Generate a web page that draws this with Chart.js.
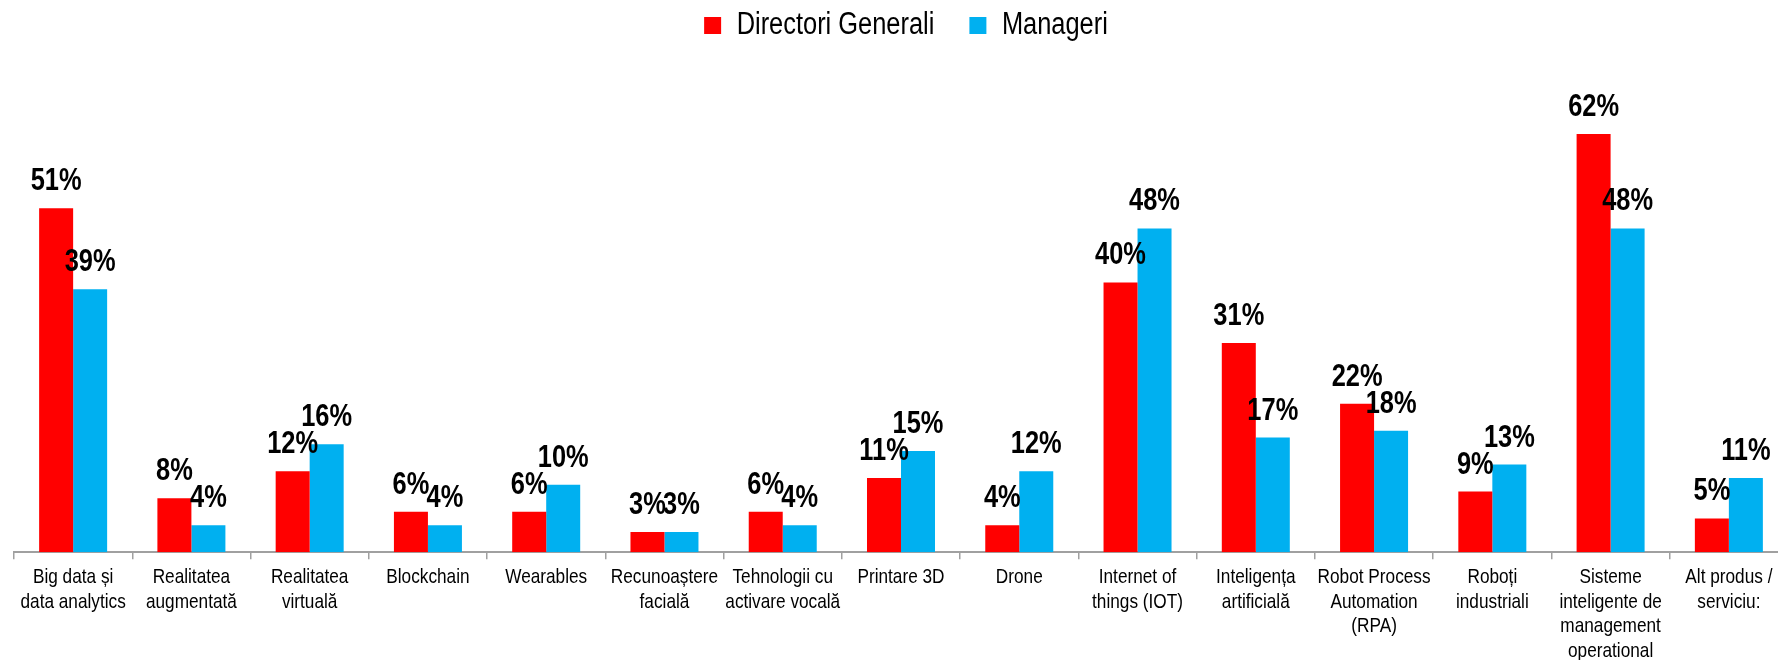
<!DOCTYPE html>
<html>
<head>
<meta charset="utf-8">
<script src="https://cdn.jsdelivr.net/npm/chart.js@4"></script>
<style>
html, body { margin: 0; padding: 0; background: #fff; overflow: hidden; }
#wrap { width: 1800px; height: 680px; position: relative; }
</style>
</head>
<body>
<div id="wrap"><canvas id="c" width="1800" height="680"></canvas></div>
<script>
const categories = [
  ["Big data și", "data analytics"],
  ["Realitatea", "augmentată"],
  ["Realitatea", "virtuală"],
  ["Blockchain"],
  ["Wearables"],
  ["Recunoaștere", "facială"],
  ["Tehnologii cu", "activare vocală"],
  ["Printare 3D"],
  ["Drone"],
  ["Internet of", "things (IOT)"],
  ["Inteligența", "artificială"],
  ["Robot Process", "Automation", "(RPA)"],
  ["Roboți", "industriali"],
  ["Sisteme", "inteligente de", "management", "operational"],
  ["Alt produs /", "serviciu:"]
];
const seriesNames = ["Directori Generali", "Manageri"];
const directoriGenerali = [51, 8, 12, 6, 6, 3, 6, 11, 4, 40, 31, 22, 9, 62, 5];
const manageri = [39, 4, 16, 4, 10, 3, 4, 15, 12, 48, 17, 18, 13, 48, 11];
const seriesColors = ["#FF0000", "#00B0F0"];

const FONT = '"Liberation Sans Narrow", "Arial Narrow", "Liberation Sans", Arial, sans-serif';

// Emulate a narrow (condensed) face: the reference uses Arial Narrow.
const canvas = document.getElementById('c');
const ctx2d = canvas.getContext('2d');
const NARROW = 0.82;
const origFill = ctx2d.fillText.bind(ctx2d);
const origMeasure = ctx2d.measureText.bind(ctx2d);
ctx2d.fillText = function (t, x, y) {
  this.save();
  this.translate(x, y);
  this.scale(NARROW, 1);
  origFill(t, 0, 0);
  this.restore();
};
ctx2d.measureText = function (t) {
  const m = origMeasure(t);
  return {
    width: m.width * NARROW,
    actualBoundingBoxLeft: m.actualBoundingBoxLeft * NARROW,
    actualBoundingBoxRight: m.actualBoundingBoxRight * NARROW,
    actualBoundingBoxAscent: m.actualBoundingBoxAscent,
    actualBoundingBoxDescent: m.actualBoundingBoxDescent,
    fontBoundingBoxAscent: m.fontBoundingBoxAscent,
    fontBoundingBoxDescent: m.fontBoundingBoxDescent
  };
};

const valueLabels = {
  id: 'valueLabels',
  afterDatasetsDraw(chart) {
    const ctx = chart.ctx;
    ctx.save();
    ctx.font = 'bold 31px ' + FONT;
    ctx.fillStyle = '#000';
    ctx.textAlign = 'center';
    ctx.textBaseline = 'alphabetic';
    chart.data.datasets.forEach((ds, i) => {
      const meta = chart.getDatasetMeta(i);
      meta.data.forEach((bar, j) => {
        ctx.fillText(ds.data[j] + '%', bar.x, bar.y - 18);
      });
    });
    ctx.restore();
  }
};

const legendShift = {
  id: 'legendShift',
  afterLayout(chart) {
    const lg = chart.legend;
    if (!lg) return;
    lg.top -= 29; lg.bottom -= 29;
    lg.left += 5; lg.right += 5;
  }
};

new Chart(canvas, {
  type: 'bar',
  data: {
    labels: categories,
    datasets: [
      { label: seriesNames[0], data: directoriGenerali, backgroundColor: seriesColors[0], borderWidth: 0 },
      { label: seriesNames[1], data: manageri, backgroundColor: seriesColors[1], borderWidth: 0 }
    ]
  },
  options: {
    responsive: false,
    animation: false,
    devicePixelRatio: 1,
    layout: { padding: { left: 14, right: 12, top: 4, bottom: 10.5 } },
    datasets: { bar: { categoryPercentage: 0.575, barPercentage: 1.0 } },
    plugins: {
      legend: {
        position: 'top',
        labels: {
          font: { family: FONT, size: 31 },
          color: '#000',
          boxWidth: 17,
          boxHeight: 17,
          padding: 35
        }
      },
      tooltip: { enabled: false }
    },
    scales: {
      x: {
        grid: { display: true, drawOnChartArea: false, drawTicks: true, tickLength: 7, color: '#a0a0a0', lineWidth: 1.5 },
        border: { display: true, color: '#a0a0a0', width: 2 },
        ticks: {
          font: { family: FONT, size: 21, lineHeight: 1.17 },
          color: '#000',
          padding: 6,
          maxRotation: 0,
          minRotation: 0,
          autoSkip: false
        }
      },
      y: {
        display: false,
        min: 0,
        max: 70
      }
    }
  },
  plugins: [valueLabels, legendShift]
});
</script>
</body>
</html>
